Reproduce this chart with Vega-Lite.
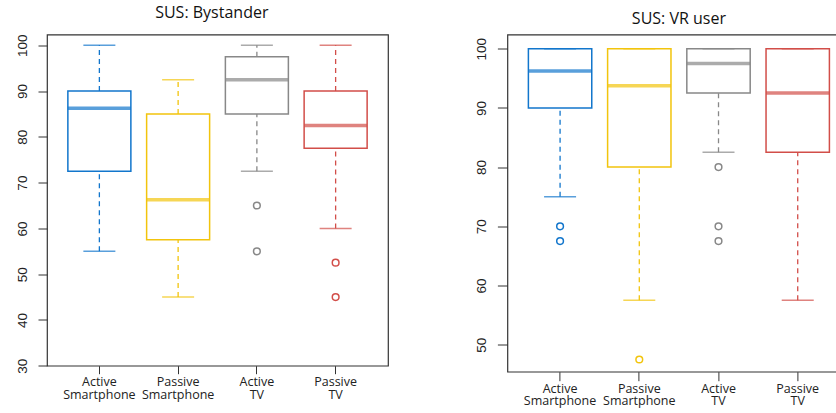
{
  "$schema": "https://vega.github.io/schema/vega-lite/v6.json",
  "background": "white",
  "padding": {"left": 15, "top": 4.5, "right": 0, "bottom": 0},
  "autosize": {"type": "pad"},
  "spacing": 119.4,
  "bounds": "flush",
  "datasets": {
    "boxes": [
      {"panel": "Bystander", "group": "Active Smartphone", "lower": 55, "q1": 72.5, "median": 86.25, "q3": 90, "upper": 100},
      {"panel": "Bystander", "group": "Passive Smartphone", "lower": 45, "q1": 57.5, "median": 66.25, "q3": 85, "upper": 92.5},
      {"panel": "Bystander", "group": "Active TV", "lower": 72.5, "q1": 85, "median": 92.5, "q3": 97.5, "upper": 100},
      {"panel": "Bystander", "group": "Passive TV", "lower": 60, "q1": 77.5, "median": 82.5, "q3": 90, "upper": 100},
      {"panel": "VR user", "group": "Active Smartphone", "lower": 75, "q1": 90, "median": 96.25, "q3": 100, "upper": 100},
      {"panel": "VR user", "group": "Passive Smartphone", "lower": 57.5, "q1": 80, "median": 93.75, "q3": 100, "upper": 100},
      {"panel": "VR user", "group": "Active TV", "lower": 82.5, "q1": 92.5, "median": 97.5, "q3": 100, "upper": 100},
      {"panel": "VR user", "group": "Passive TV", "lower": 57.5, "q1": 82.5, "median": 92.5, "q3": 100, "upper": 100}
    ],
    "outliers": [
      {"panel": "Bystander", "group": "Active TV", "value": 65},
      {"panel": "Bystander", "group": "Active TV", "value": 55},
      {"panel": "Bystander", "group": "Passive TV", "value": 52.5},
      {"panel": "Bystander", "group": "Passive TV", "value": 45},
      {"panel": "VR user", "group": "Active Smartphone", "value": 70},
      {"panel": "VR user", "group": "Active Smartphone", "value": 67.5},
      {"panel": "VR user", "group": "Passive Smartphone", "value": 47.5},
      {"panel": "VR user", "group": "Active TV", "value": 80},
      {"panel": "VR user", "group": "Active TV", "value": 70},
      {"panel": "VR user", "group": "Active TV", "value": 67.5}
    ]
  },
  "config": {
    "view": {"stroke": "#333333", "strokeWidth": 1.2},
    "axis": {"domain": false, "grid": false, "tickColor": "#333333", "tickWidth": 1, "labelColor": "#222222", "titleColor": "#222222"},
    "title": {"font": "Open Sans", "fontSize": 16, "fontWeight": "normal", "color": "#111111", "anchor": "middle", "frame": "group", "baseline": "alphabetic"}
  },
  "hconcat": [
    {
      "width": 341,
      "height": 331.2,
      "title": {"text": "SUS: Bystander", "offset": 12.8, "dx": -5.7},
      "encoding": {
        "x": {"field": "group", "type": "nominal", "sort": ["Active Smartphone", "Passive Smartphone", "Active TV", "Passive TV"], "title": null,
          "scale": {"paddingInner": 0, "paddingOuter": 0.165},
          "axis": {"labelAngle": 0, "labelExpr": "split(datum.label, ' ')", "labelFont": "Open Sans", "labelFontSize": 12.5, "labelLineHeight": 12.5, "labelBaseline": "top", "tickSize": 8, "labelPadding": 2}},
        "color": {"field": "group", "type": "nominal", "legend": null,
          "scale": {"domain": ["Active Smartphone", "Passive Smartphone", "Active TV", "Passive TV"], "range": ["#1276cc", "#f2c40d", "#888888", "#d24e49"]}}
      },
      "layer": [
        {"data": {"name": "boxes"}, "transform": [{"filter": "datum.panel == 'Bystander'"}],
          "mark": {"type": "rule", "strokeDash": [5, 4], "strokeWidth": 1.3},
          "encoding": {"y": {"field": "q3", "type": "quantitative", "title": null,
            "scale": {"domain": [30, 102.36], "nice": false, "zero": false},
            "axis": {"values": [30, 40, 50, 60, 70, 80, 90, 100], "labelAngle": -90, "labelAlign": "center", "labelBaseline": "alphabetic", "labelFont": "Liberation Sans", "labelFontSize": 13.5, "tickSize": 9, "labelPadding": 11.3}},
            "y2": {"field": "upper"}}},
        {"data": {"name": "boxes"}, "transform": [{"filter": "datum.panel == 'Bystander'"}],
          "mark": {"type": "rule", "strokeDash": [5, 4], "strokeWidth": 1.3},
          "encoding": {"y": {"field": "lower", "type": "quantitative"}, "y2": {"field": "q1"}}},
        {"data": {"name": "boxes"}, "transform": [{"filter": "datum.panel == 'Bystander'"}],
          "mark": {"type": "tick", "orient": "horizontal", "size": 32, "thickness": 1.5},
          "encoding": {"y": {"field": "upper", "type": "quantitative"}}},
        {"data": {"name": "boxes"}, "transform": [{"filter": "datum.panel == 'Bystander'"}],
          "mark": {"type": "tick", "orient": "horizontal", "size": 32, "thickness": 1.5},
          "encoding": {"y": {"field": "lower", "type": "quantitative"}}},
        {"data": {"name": "boxes"}, "transform": [{"filter": "datum.panel == 'Bystander'"}],
          "mark": {"type": "bar", "filled": false, "strokeWidth": 1.5, "width": {"band": 0.8}},
          "encoding": {"y": {"field": "q1", "type": "quantitative"}, "y2": {"field": "q3"}}},
        {"data": {"name": "boxes"}, "transform": [{"filter": "datum.panel == 'Bystander'"}],
          "mark": {"type": "tick", "orient": "horizontal", "size": 63, "thickness": 3.5},
          "encoding": {"y": {"field": "median", "type": "quantitative"}}},
        {"data": {"name": "outliers"}, "transform": [{"filter": "datum.panel == 'Bystander'"}],
          "mark": {"type": "point", "shape": "circle", "filled": false, "size": 45, "strokeWidth": 1.5, "opacity": 1},
          "encoding": {"y": {"field": "value", "type": "quantitative"}}}
      ]
    },
    {
      "width": 343,
      "height": 337.2,
      "title": {"text": "SUS: VR user", "offset": 7.5},
      "encoding": {
        "x": {"field": "group", "type": "nominal", "sort": ["Active Smartphone", "Passive Smartphone", "Active TV", "Passive TV"], "title": null,
          "scale": {"paddingInner": 0, "paddingOuter": 0.165},
          "axis": {"labelAngle": 0, "labelExpr": "split(datum.label, ' ')", "labelFont": "Open Sans", "labelFontSize": 12.5, "labelLineHeight": 12.5, "labelBaseline": "top", "tickSize": 9, "labelPadding": 1.5}},
        "color": {"field": "group", "type": "nominal", "legend": null,
          "scale": {"domain": ["Active Smartphone", "Passive Smartphone", "Active TV", "Passive TV"], "range": ["#1276cc", "#f2c40d", "#888888", "#d24e49"]}}
      },
      "layer": [
        {"data": {"name": "boxes"}, "transform": [{"filter": "datum.panel == 'VR user'"}],
          "mark": {"type": "rule", "strokeDash": [5, 4], "strokeWidth": 1.3},
          "encoding": {"y": {"field": "q3", "type": "quantitative", "title": null,
            "scale": {"domain": [45.44, 102.4], "nice": false, "zero": false},
            "axis": {"values": [50, 60, 70, 80, 90, 100], "labelAngle": -90, "labelAlign": "center", "labelBaseline": "alphabetic", "labelFont": "Liberation Sans", "labelFontSize": 13.5, "tickSize": 10, "labelPadding": 12.4}},
            "y2": {"field": "upper"}}},
        {"data": {"name": "boxes"}, "transform": [{"filter": "datum.panel == 'VR user'"}],
          "mark": {"type": "rule", "strokeDash": [5, 4], "strokeWidth": 1.3},
          "encoding": {"y": {"field": "lower", "type": "quantitative"}, "y2": {"field": "q1"}}},
        {"data": {"name": "boxes"}, "transform": [{"filter": "datum.panel == 'VR user'"}],
          "mark": {"type": "tick", "orient": "horizontal", "size": 32, "thickness": 1.5},
          "encoding": {"y": {"field": "upper", "type": "quantitative"}}},
        {"data": {"name": "boxes"}, "transform": [{"filter": "datum.panel == 'VR user'"}],
          "mark": {"type": "tick", "orient": "horizontal", "size": 32, "thickness": 1.5},
          "encoding": {"y": {"field": "lower", "type": "quantitative"}}},
        {"data": {"name": "boxes"}, "transform": [{"filter": "datum.panel == 'VR user'"}],
          "mark": {"type": "bar", "filled": false, "strokeWidth": 1.5, "width": {"band": 0.8}},
          "encoding": {"y": {"field": "q1", "type": "quantitative"}, "y2": {"field": "q3"}}},
        {"data": {"name": "boxes"}, "transform": [{"filter": "datum.panel == 'VR user'"}],
          "mark": {"type": "tick", "orient": "horizontal", "size": 63.4, "thickness": 3.5},
          "encoding": {"y": {"field": "median", "type": "quantitative"}}},
        {"data": {"name": "outliers"}, "transform": [{"filter": "datum.panel == 'VR user'"}],
          "mark": {"type": "point", "shape": "circle", "filled": false, "size": 45, "strokeWidth": 1.5, "opacity": 1},
          "encoding": {"y": {"field": "value", "type": "quantitative"}}}
      ]
    }
  ]
}
